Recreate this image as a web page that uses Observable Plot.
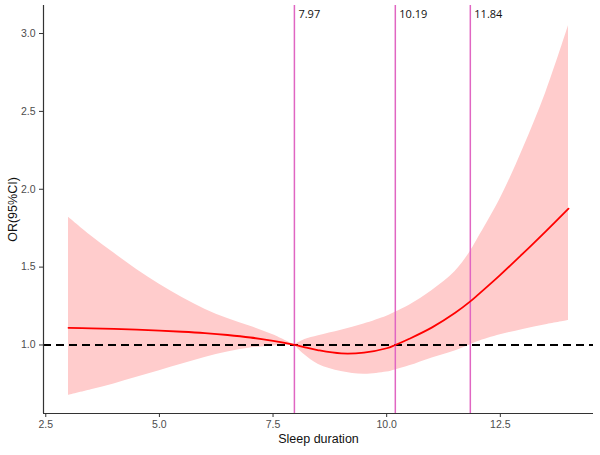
<!DOCTYPE html>
<html>
<head>
<meta charset="utf-8">
<script src="https://cdn.jsdelivr.net/npm/d3@7"></script>
<script src="https://cdn.jsdelivr.net/npm/@observablehq/plot@0.6"></script>
<style>
  html, body { margin: 0; padding: 0; background: #fff; }
  #chart svg { display: block; }
</style>
</head>
<body>
<div id="chart"></div>
<script>
// Sleep duration (hours)
const duration = [3, 3.5, 4, 4.5, 5, 5.5, 6, 6.5, 7, 7.5, 7.97, 8.2, 8.5, 9, 9.5, 10, 10.19, 10.5, 11, 11.5, 11.84, 12, 12.5, 13, 13.5, 14];
// Odds ratio estimate
const orEst  = [1.11, 1.107, 1.103, 1.098, 1.092, 1.085, 1.076, 1.064, 1.048, 1.026, 1.0, 0.985, 0.966, 0.946, 0.951, 0.979, 1.0, 1.04, 1.113, 1.205, 1.28, 1.32, 1.45, 1.588, 1.73, 1.875];
// 95% CI lower bound
const ciLow  = [0.676, 0.712, 0.75, 0.792, 0.835, 0.878, 0.92, 0.955, 0.98, 0.994, 1.0, 0.935, 0.875, 0.83, 0.812, 0.826, 0.84, 0.866, 0.917, 0.962, 1.0, 1.02, 1.065, 1.1, 1.13, 1.157];
// 95% CI upper bound
const ciHigh = [1.82, 1.70, 1.59, 1.485, 1.39, 1.305, 1.23, 1.17, 1.12, 1.065, 1.0, 1.035, 1.06, 1.095, 1.135, 1.185, 1.21, 1.255, 1.35, 1.47, 1.6, 1.68, 1.94, 2.26, 2.62, 3.05];
// Knot / cut-point lines
const cutPoints = [7.97, 10.19, 11.84];
const cutLabels = ["7.97", "10.19", "11.84"];
// Axis ticks
const xTicks = [2.5, 5.0, 7.5, 10.0, 12.5];
const yTicks = [1.0, 1.5, 2.0, 2.5, 3.0];
const refLine = [1];

const pinch = cutPoints[0];
const rows = duration.map((d, i) => ({x: d, or: orEst[i], lo: ciLow[i], hi: ciHigh[i]}));
// split the ribbon at the pinch point so each side is smoothed on its own
const bandRows = [
  ...rows.filter(r => r.x <= pinch).map(r => ({...r, seg: "a"})),
  ...rows.filter(r => r.x >= pinch).map(r => ({...r, seg: "b"}))
];
const cuts = cutPoints.map((c, i) => ({x: c, label: cutLabels[i]}));

const xDomain = [2.45, 14.55];
const yDomain = [0.56, 3.18];

const plot = Plot.plot({
  width: 600,
  height: 455,
  marginLeft: 43,
  marginRight: 7,
  marginTop: 5,
  marginBottom: 42,
  style: {fontFamily: "Liberation Sans, Arial, sans-serif", background: "#fff"},
  x: {domain: xDomain},
  y: {domain: yDomain},
  marks: [
    Plot.areaY(bandRows, {x: "x", y1: "lo", y2: "hi", z: "seg", fill: "#FFCCCC", curve: "catmull-rom"}),
    Plot.ruleY(refLine, {stroke: "#000", strokeWidth: 1.8, strokeDasharray: "8,5"}),
    Plot.ruleX(cuts, {x: "x", stroke: "#E066C2", strokeWidth: 1.5}),
    Plot.line(rows, {x: "x", y: "or", stroke: "#FF0000", strokeWidth: 1.8, curve: "catmull-rom"}),
    Plot.text(cuts, {x: "x", text: "label", frameAnchor: "top", dy: 9, dx: 4, textAnchor: "start", lineAnchor: "middle", fontSize: 11, fill: "#111", fontFamily: "Open Sans, sans-serif", fontWeight: 500}),
    Plot.ruleY([yDomain[0]], {stroke: "#333", strokeWidth: 1.2}),
    Plot.ruleX([xDomain[0]], {stroke: "#333", strokeWidth: 1.2}),
    Plot.axisX(xTicks, {tickSize: 4, tickPadding: 3, tickFormat: d3.format(".1f"), fontSize: 10.5, color: "#4D4D4D", stroke: "#333", label: null}),
    Plot.axisY(yTicks, {tickSize: 4, tickPadding: 4, tickFormat: d3.format(".1f"), fontSize: 10.5, color: "#4D4D4D", stroke: "#333", label: null}),
    Plot.text(["Sleep duration"], {frameAnchor: "bottom", dy: 25, lineAnchor: "middle", fontSize: 12.5, fill: "#111"}),
    Plot.text(["OR(95%CI)"], {frameAnchor: "left", dx: -31, rotate: -90, lineAnchor: "middle", textAnchor: "middle", fontSize: 12.5, fill: "#111"})
  ]
});
document.getElementById("chart").appendChild(plot);
</script>
</body>
</html>
